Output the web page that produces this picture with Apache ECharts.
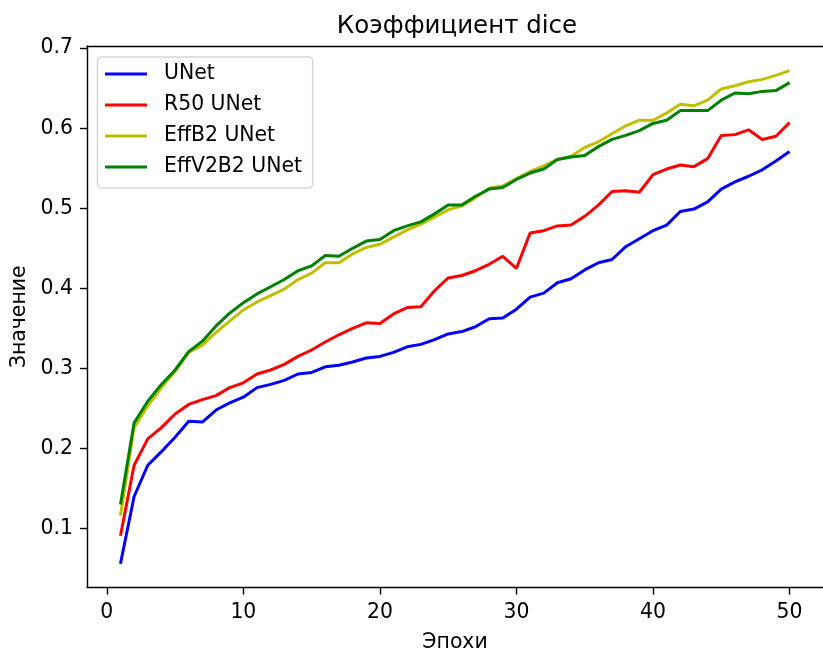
<!DOCTYPE html>
<html>
<head>
<meta charset="utf-8">
<script src="https://cdn.jsdelivr.net/npm/echarts@6/dist/echarts.min.js"></script>
<style>
  html, body { margin: 0; padding: 0; background: #ffffff; }
  #chart { width: 823px; height: 658px; }
</style>
</head>
<body>
<div id="chart"></div>
<script>
// Epoch numbers along the x axis
const epochs = [1, 2, 3, 4, 5, 6, 7, 8, 9, 10, 11, 12, 13, 14, 15, 16, 17, 18, 19, 20,
  21, 22, 23, 24, 25, 26, 27, 28, 29, 30, 31, 32, 33, 34, 35, 36, 37, 38, 39, 40,
  41, 42, 43, 44, 45, 46, 47, 48, 49, 50];

// Dice coefficient per epoch for each model
const unet = [0.056, 0.140, 0.179, 0.196, 0.214, 0.234, 0.233, 0.248, 0.257, 0.264,
  0.276, 0.280, 0.285, 0.293, 0.295, 0.302, 0.304, 0.308, 0.313, 0.315,
  0.320, 0.327, 0.330, 0.336, 0.343, 0.346, 0.352, 0.362, 0.363, 0.374,
  0.389, 0.394, 0.407, 0.412, 0.423, 0.432, 0.436, 0.452, 0.462, 0.472,
  0.479, 0.496, 0.499, 0.508, 0.524, 0.533, 0.540, 0.548, 0.559, 0.571];
const r50Unet = [0.091, 0.179, 0.212, 0.226, 0.243, 0.255, 0.261, 0.266, 0.276, 0.282,
  0.293, 0.298, 0.305, 0.315, 0.323, 0.333, 0.342, 0.350, 0.357, 0.356,
  0.368, 0.376, 0.377, 0.397, 0.413, 0.416, 0.422, 0.430, 0.440, 0.425,
  0.469, 0.472, 0.478, 0.479, 0.490, 0.504, 0.521, 0.522, 0.520, 0.542,
  0.549, 0.554, 0.552, 0.562, 0.591, 0.592, 0.598, 0.586, 0.590, 0.607];
const effB2Unet = [0.116, 0.226, 0.253, 0.276, 0.296, 0.320, 0.329, 0.345, 0.359, 0.373,
  0.383, 0.391, 0.399, 0.411, 0.419, 0.432, 0.432, 0.443, 0.451, 0.455,
  0.464, 0.473, 0.480, 0.489, 0.498, 0.503, 0.513, 0.525, 0.528, 0.537,
  0.546, 0.553, 0.561, 0.565, 0.576, 0.583, 0.593, 0.603, 0.610, 0.610,
  0.619, 0.630, 0.628, 0.635, 0.649, 0.653, 0.658, 0.661, 0.666, 0.672];
const effV2B2Unet = [0.130, 0.232, 0.259, 0.280, 0.298, 0.321, 0.334, 0.353, 0.369, 0.382,
  0.393, 0.402, 0.411, 0.422, 0.428, 0.441, 0.440, 0.450, 0.459, 0.461,
  0.472, 0.478, 0.483, 0.493, 0.504, 0.504, 0.515, 0.524, 0.526, 0.536,
  0.544, 0.549, 0.561, 0.564, 0.566, 0.577, 0.586, 0.591, 0.597, 0.606,
  0.610, 0.622, 0.622, 0.622, 0.635, 0.644, 0.643, 0.646, 0.647, 0.657];

const seriesNames = ['UNet', 'R50 UNet', 'EffB2 UNet', 'EffV2B2 UNet'];
const seriesValues = [unet, r50Unet, effB2Unet, effV2B2Unet];
const seriesColors = ['#0000ff', '#ff0000', '#bfbf00', '#008000'];

// Tick labels
const xTicks = [0, 10, 20, 30, 40, 50];
const yTicks = [0.1, 0.2, 0.3, 0.4, 0.5, 0.6, 0.7];

const FONT = 'DejaVu Sans';
const FS = 20.4;
const chart = echarts.init(document.getElementById('chart'), null, { renderer: 'canvas' });

const axisLine = { show: true, onZero: false, lineStyle: { color: '#000', width: 1.4 } };
const tickStyle = { color: '#000', width: 1.4 };
const xMin = -1.45, xMax = 52.45;
const yMin = 0.0262, yMax = 0.7027;

chart.setOption({
  animation: false,
  backgroundColor: '#ffffff',
  title: {
    text: 'Коэффициент dice',
    left: 457,
    top: 14,
    padding: 0,
    textAlign: 'center',
    textStyle: { fontFamily: FONT, fontSize: 24.5, lineHeight: 24.5, fontWeight: 'normal', color: '#000' }
  },
  legend: {
    orient: 'vertical',
    left: 97.5,
    top: 57,
    padding: [6.8, 10.6, 10.8, 7.5],
    itemWidth: 42,
    itemHeight: 3,
    itemGap: 10.6,
    icon: 'rect',
    backgroundColor: '#ffffff',
    borderColor: '#d6d6d6',
    borderWidth: 1.5,
    borderRadius: 4,
    textStyle: { fontFamily: FONT, fontSize: FS, color: '#000', lineHeight: FS, padding: [0, 0, 0, 12] },
    data: seriesNames
  },
  grid: { left: 87, top: 46, width: 740, height: 549, containLabel: false },
  xAxis: [{
    type: 'value',
    position: 'bottom',
    min: xMin,
    max: xMax,
    name: 'Эпохи',
    nameLocation: 'middle',
    nameGap: 45,
    nameTextStyle: { fontFamily: FONT, fontSize: FS, lineHeight: FS, color: '#000' },
    axisLine: axisLine,
    axisTick: { show: true, inside: false, length: 7, customValues: xTicks, lineStyle: tickStyle },
    axisLabel: { show: true, margin: 15, customValues: xTicks, fontFamily: FONT, fontSize: FS, lineHeight: FS, color: '#000' },
    splitLine: { show: false }
  }, {
    type: 'value',
    position: 'top',
    min: xMin,
    max: xMax,
    axisLine: axisLine,
    axisTick: { show: false },
    axisLabel: { show: false },
    splitLine: { show: false }
  }],
  yAxis: [{
    type: 'value',
    position: 'left',
    min: yMin,
    max: yMax,
    name: 'Значение',
    nameLocation: 'middle',
    nameGap: 57,
    nameTextStyle: { fontFamily: FONT, fontSize: FS, lineHeight: FS, color: '#000' },
    axisLine: axisLine,
    axisTick: { show: true, inside: false, length: 7, customValues: yTicks, lineStyle: tickStyle },
    axisLabel: {
      show: true, margin: 14, customValues: yTicks,
      fontFamily: FONT, fontSize: FS, color: '#000',
      formatter: v => v.toFixed(1)
    },
    splitLine: { show: false }
  }],
  series: seriesNames.map((name, i) => ({
    name: name,
    type: 'line',
    xAxisIndex: 0,
    yAxisIndex: 0,
    showSymbol: false,
    symbol: 'none',
    lineStyle: { color: seriesColors[i], width: 3 },
    itemStyle: { color: seriesColors[i] },
    data: epochs.map((e, k) => [e, seriesValues[i][k]])
  }))
});
</script>
</body>
</html>
